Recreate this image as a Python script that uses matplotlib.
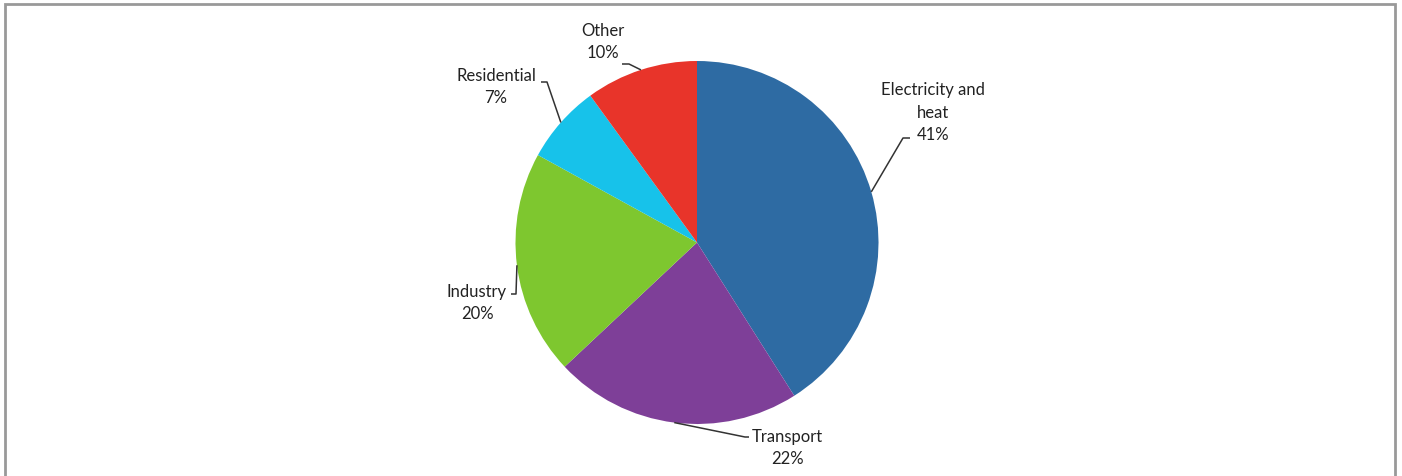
import numpy as np
import matplotlib.pyplot as plt

plt.rcParams['font.family'] = ['Lato', 'DejaVu Sans']

# data
sectors = ['Electricity and\nheat', 'Transport', 'Industry', 'Residential', 'Other']
shares = [41, 22, 20, 7, 10]
colors = ['#2e6ba3', '#7e3f98', '#7ec72f', '#17c2ea', '#e8342a']

# label layout (pixel coords, y from top), elbow of leader line, end of leader line
text_pos = [(933, 113), (787, 448), (477, 303), (496, 87), (603, 42)]
elbow = [(903, 139), (745, 438), (516, 295), (547, 83), (629, 65)]
line_end = [(910, 139), (749, 438), (511, 295), (541, 83), (622, 65)]

W, H = 1402, 477
fig = plt.figure(figsize=(W / 100, H / 100), dpi=100)
ax = fig.add_axes([0, 0, 1, 1])

cx, cy, r = 697, H - 243.5, 181.5
wedges, _ = ax.pie(shares, colors=colors, startangle=90, counterclock=False,
                   center=(cx, cy), radius=r, frame=True,
                   wedgeprops=dict(linewidth=0))
ax.set_xlim(0, W)
ax.set_ylim(0, H)
ax.set_aspect('equal')
ax.axis('off')

for w, name, val, tp, el, le in zip(wedges, sectors, shares, text_pos, elbow, line_end):
    mid = np.deg2rad((w.theta1 + w.theta2) / 2)
    ax_x = cx + r * np.cos(mid)
    ax_y = cy + r * np.sin(mid)
    ax.plot([ax_x, el[0], le[0]], [ax_y, H - el[1], H - le[1]],
            color='#333333', lw=1.1, solid_capstyle='butt')
    ax.text(tp[0], H - tp[1], f'{name}\n{val}%', ha='center', va='center',
            fontsize=12, color='#222222', linespacing=1.5)

# frame lines
ax.plot([5, 5, 1395, 1395], [0, H - 5, H - 5, 0], color='#999999', lw=2,
        solid_joinstyle='miter')

fig.savefig('out.png', dpi=100)
